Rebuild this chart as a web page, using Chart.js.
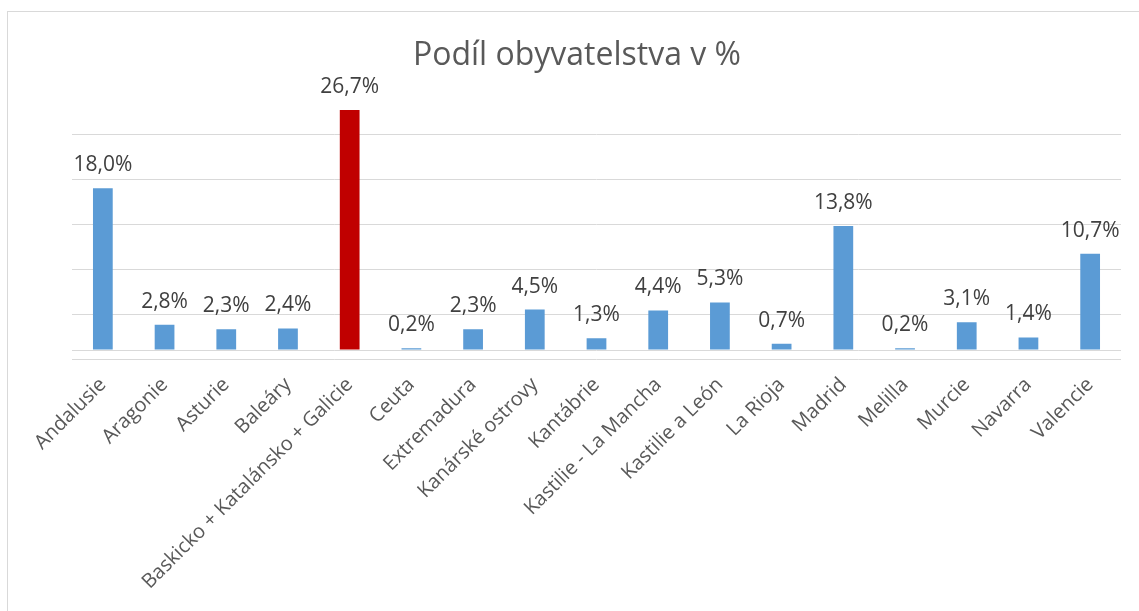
<!DOCTYPE html>
<html>
<head>
<meta charset="utf-8">
<script src="https://cdn.jsdelivr.net/npm/chart.js@4"></script>
<style>
  html, body { margin: 0; padding: 0; background: #fff; overflow: hidden; }
  #frame { position: absolute; left: 7px; top: 11px; width: 1200px; height: 700px; border: 1px solid #d9d9d9; }
  #wrap { position: absolute; left: 0; top: 0; width: 1139px; height: 611px; }
</style>
</head>
<body>
<div id="frame"></div>
<div id="wrap"><canvas id="chart" width="1139" height="611"></canvas></div>
<script>
const regiony = ['Andalusie', 'Aragonie', 'Asturie', 'Baleáry', 'Baskicko + Katalánsko + Galicie', 'Ceuta',
    'Extremadura', 'Kanárské ostrovy', 'Kantábrie', 'Kastilie - La Mancha', 'Kastilie a León', 'La Rioja',
    'Madrid', 'Melilla', 'Murcie', 'Navarra', 'Valencie'];
const podil = [18.0, 2.8, 2.3, 2.4, 26.7, 0.2, 2.3, 4.5, 1.3, 4.4, 5.3, 0.7, 13.8, 0.2, 3.1, 1.4, 10.7];
const zvyraznene = [4];
// mrizka jako v Excelu: od minima -1 po 5, plus osa v nule
const mrizka = [-1, 0, 4, 9, 14, 19, 24];

const modra = '#5b9bd5';
const cervena = '#c00000';
const barvy = podil.map((v, i) => zvyraznene.includes(i) ? cervena : modra);

// popisky hodnot nad sloupci
const popisky = {
    id: 'popisky',
    afterDatasetsDraw(chart) {
        const ctx = chart.ctx;
        const meta = chart.getDatasetMeta(0);
        ctx.save();
        ctx.font = '21px "Open Sans"';
        ctx.fillStyle = '#404040';
        ctx.textAlign = 'center';
        ctx.textBaseline = 'alphabetic';
        meta.data.forEach((bar, i) => {
            const txt = podil[i].toFixed(1).replace('.', ',') + '%';
            ctx.fillText(txt, bar.x, bar.y - 17);
        });
        ctx.restore();
    }
};

new Chart(document.getElementById('chart'), {
    type: 'bar',
    data: {
        labels: regiony,
        datasets: [{
            data: podil,
            backgroundColor: barvy,
            borderWidth: 0,
            barPercentage: 0.32,
            categoryPercentage: 1
        }]
    },
    options: {
        responsive: false,
        animation: false,
        layout: { padding: { left: 33, right: 18, top: 0, bottom: 0 } },
        plugins: {
            legend: { display: false },
            tooltip: { enabled: false },
            title: {
                display: true,
                text: 'Podíl obyvatelstva v %',
                color: '#595959',
                font: { family: '"Open Sans"', size: 32, weight: 'normal' },
                padding: { top: 37, bottom: 32 }
            }
        },
        scales: {
            x: {
                grid: { display: false },
                border: { display: false },
                ticks: {
                    color: '#595959',
                    font: { family: '"Open Sans"', size: 20 },
                    minRotation: 45,
                    maxRotation: 45,
                    autoSkip: false,
                    padding: 6
                },
                afterFit: (scale) => { scale.height = 252; }
            },
            y: {
                min: -1,
                max: 27,
                border: { display: false },
                grid: { color: '#d9d9d9', lineWidth: 1, drawTicks: false },
                ticks: { display: false },
                afterBuildTicks: (scale) => { scale.ticks = mrizka.map(v => ({ value: v })); },
                afterFit: (scale) => { scale.width = 39; }
            }
        }
    },
    plugins: [popisky]
});
</script>
</body>
</html>
